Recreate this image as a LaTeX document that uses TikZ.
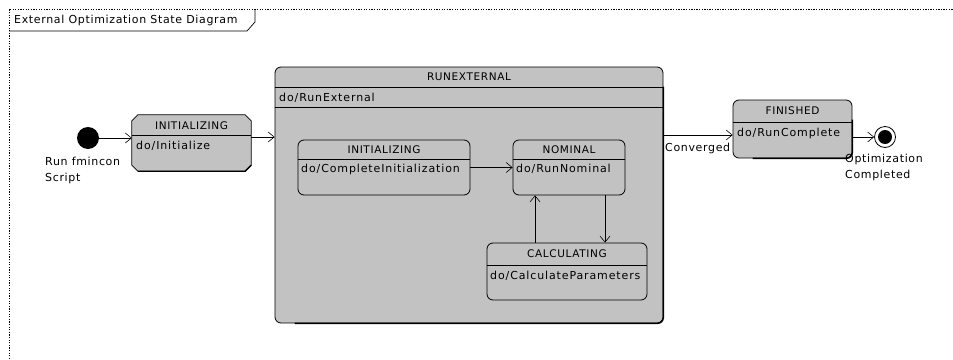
\documentclass[tikz,border=0pt]{standalone}
\usepackage{fontspec}
\setmainfont{DejaVu Sans}[LetterSpace=6]
\newfontfamily\dofont{DejaVu Sans}[LetterSpace=8]
\usetikzlibrary{arrows.meta}
\definecolor{statefill}{gray}{0.76}
\begin{document}
\begin{tikzpicture}[x=1pt,y=-1pt,
  st/.style={draw, line width=0.8pt, fill=statefill, rounded corners=6pt, inner sep=0pt, rectangle},
  box/.style={inner sep=0pt, rectangle},
  lbl/.style={font=\fontsize{10.5}{12}\selectfont, inner sep=0pt},
  dotxt/.style={font=\dofont\fontsize{11}{12}\selectfont, inner sep=0pt},
  txt/.style={font=\fontsize{11}{16}\selectfont, inner sep=0pt, align=left},
  divl/.style={line width=0.6pt},
  tr/.style={-{Straight Barb[length=6pt,width=10pt]}, line width=0.6pt},
  frame/.style={line width=1pt, dash pattern=on 1.3pt off 1.3pt}
]
\useasboundingbox (0,0) rectangle (953,359);
% frame
\draw[frame] (9,359) -- (9,9) -- (953,9);
\draw[line width=0.7pt] (9,31) -- (247,31) -- (255,22) -- (255,9);
\node[txt, anchor=west] (title) at (14,20) {External Optimization State Diagram};

% initial state
\node[circle, fill=black, minimum size=22pt, inner sep=0pt] (start) at (88,138) {};
\node[txt, anchor=north west] (startlbl) at (45,157) {Run fmincon\\Script};

% outer INITIALIZING (chamfered)
\node[box, minimum width=119pt, minimum height=56pt] (ini) at (191.5,143) {};
\draw[line width=0.8pt, fill=statefill]
  ([xshift=6pt]ini.north west) -- ([xshift=-6pt]ini.north east) -- ([yshift=-6pt]ini.north east)
  -- ([yshift=6pt]ini.south east) -- ([xshift=-6pt]ini.south east) -- ([xshift=6pt]ini.south west)
  -- ([yshift=6pt]ini.south west) -- ([yshift=-6pt]ini.north west) -- cycle;
\draw[line width=1.4pt] ([yshift=6pt]ini.south east) -- ([xshift=-6pt]ini.south east) -- ([xshift=6pt]ini.south west);
\draw[divl] (ini.west |- 0,135) -- (ini.east |- 0,135);
\node[lbl] (initit) at (191.5,125.5) {INITIALIZING};
\node[dotxt, anchor=west] (inido) at (136,146) {do/Initialize};

% RUNEXTERNAL
\node[st, minimum width=388pt, minimum height=256pt] (run) at (469,195) {};
\draw[line width=1.4pt, rounded corners=6pt] ([yshift=-20pt]run.north east) -- (run.south east) -- ([xshift=20pt]run.south west);
\draw[divl] (run.west |- 0,87) -- (run.east |- 0,87);
\draw[divl] (run.west |- 0,107) -- (run.east |- 0,107);
\node[lbl] (runtit) at (469,77) {RUNEXTERNAL};
\node[dotxt, anchor=west] (rundo) at (279,97.5) {do/RunExternal};

% inner INITIALIZING
\node[st, minimum width=172pt, minimum height=55pt] (cini) at (384,167.5) {};
\draw[divl] (cini.west |- 0,159) -- (cini.east |- 0,159);
\node[lbl] (cinitit) at (384,150) {INITIALIZING};
\node[dotxt, anchor=west] (cinido) at (301,169) {do/CompleteInitialization};

% NOMINAL
\node[st, minimum width=112pt, minimum height=55pt] (nom) at (569,167.5) {};
\draw[divl] (nom.west |- 0,159) -- (nom.east |- 0,159);
\node[lbl] (nomtit) at (569,150) {NOMINAL};
\node[dotxt, anchor=west] (nomdo) at (516,169) {do/RunNominal};

% CALCULATING
\node[st, minimum width=160pt, minimum height=57pt] (calc) at (567,271.5) {};
\draw[divl] (calc.west |- 0,265) -- (calc.east |- 0,265);
\node[lbl] (calctit) at (567,254) {CALCULATING};
\node[dotxt, anchor=west] (calcdo) at (490,276) {do/CalculateParameters};

% FINISHED
\node[st, minimum width=119pt, minimum height=58pt] (fin) at (792.5,129) {};
\draw[line width=1.4pt, rounded corners=6pt] ([yshift=-20pt]fin.north east) -- (fin.south east) -- ([xshift=20pt]fin.south west);
\draw[divl] (fin.west |- 0,122) -- (fin.east |- 0,122);
\node[lbl] (fintit) at (792.5,111) {FINISHED};
\node[dotxt, anchor=west] (findo) at (737,133) {do/RunComplete};

% final state
\node[circle, draw, line width=0.8pt, fill=white, minimum size=21pt, inner sep=0pt] (end) at (885,137) {};
\node[circle, fill=black, minimum size=14pt, inner sep=0pt] (endin) at (end) {};
\node[txt, anchor=north west] (endlbl) at (845,154) {Optimization\\Completed};

% transitions
\draw[tr] (start) -- (ini.west |- start);
\draw[tr] (ini.east |- 0,137) -- (run.west |- 0,137);
\draw[tr] (cini.east) -- (nom.west);
\draw[tr] (calc.north -| 535,0) -- (nom.south -| 535,0);
\draw[tr] (nom.south -| 605,0) -- (calc.north -| 605,0);
\draw[tr] (run.east |- 0,135) -- (fin.west |- 0,135);
\node[txt, anchor=north west] (conv) at (665,143) {Converged};
\draw[tr] (fin.east |- end) -- (end);
\end{tikzpicture}
\end{document}
